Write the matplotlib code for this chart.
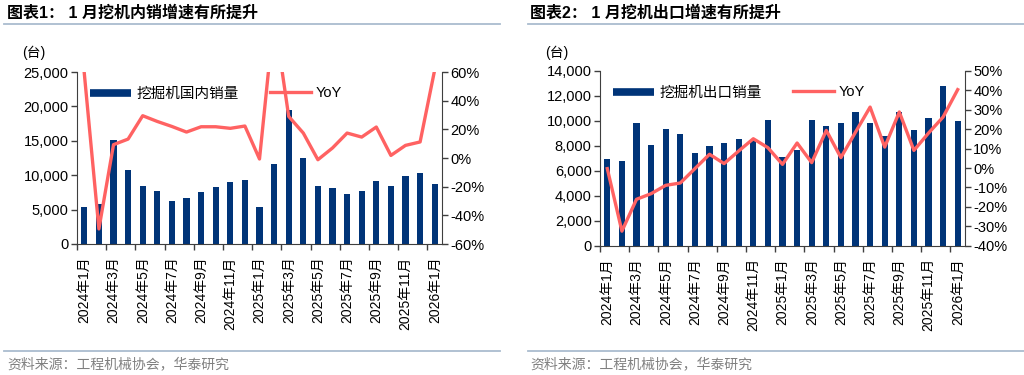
import numpy as np
import matplotlib
matplotlib.use("Agg")
import matplotlib.pyplot as plt
from matplotlib.ticker import FuncFormatter, FixedLocator
from matplotlib.lines import Line2D

plt.rcParams['font.family'] = ['Liberation Sans', 'Noto Sans CJK SC', 'DejaVu Sans']

# ---------------- data ----------------
months = ["2024年1月", "2024年2月", "2024年3月", "2024年4月", "2024年5月", "2024年6月",
          "2024年7月", "2024年8月", "2024年9月", "2024年10月", "2024年11月", "2024年12月",
          "2025年1月", "2025年2月", "2025年3月", "2025年4月", "2025年5月", "2025年6月",
          "2025年7月", "2025年8月", "2025年9月", "2025年10月", "2025年11月", "2025年12月",
          "2026年1月"]

domestic_sales = [5420, 5810, 15160, 10800, 8470, 7650, 6200, 6690, 7600, 8280, 9010, 9300,
                  5420, 11630, 19520, 12500, 8370, 8140, 7270, 7650, 9200, 8470, 9830, 10320,
                  8720]
domestic_yoy = [59.0, -49.5, 9.3, 13.2, 29.5, 25.5, 22.0, 18.1, 21.8, 21.8, 20.7, 22.3,
                -0.7, 99.0, 29.0, 17.4, -1.2, 7.0, 17.4, 14.6, 21.6, 1.8, 8.8, 11.2,
                61.5]

export_sales = [6950, 6790, 9810, 8040, 9330, 8950, 7450, 7960, 8230, 8520, 8500, 10070,
                7080, 7640, 10070, 9620, 9830, 10690, 9830, 8810, 10690, 9300, 10210, 12770,
                9990]
export_yoy = [-0.3, -32.5, -16.1, -13.2, -8.9, -7.7, -0.3, 7.1, 2.3, 8.8, 15.1, 10.5,
              1.9, 12.9, 2.8, 19.4, 5.4, 18.5, 31.4, 10.8, 28.9, 9.1, 18.0, 26.3,
              40.4]

titles = ["图表1： 1 月挖机内销增速有所提升", "图表2： 1 月挖机出口增速有所提升"]
bar_labels = ["挖掘机国内销量", "挖掘机出口销量"]
line_label = "YoY"
unit_label = "(台)"
source_text = "资料来源：工程机械协会，华泰研究"

NAVY = "#003478"
RED = "#FF6262"
SPINE = "#3f3f3f"
RULE = "#AABCCF"

W, H = 1024, 375
fig = plt.figure(figsize=(W / 100, H / 100), dpi=100)


def fx(px):
    return px / W


def fy(py):
    return 1 - py / H


def panel(rect, sales, yoy, ymax, ystep, y2min, y2max, y2step, bar_label):
    ax = fig.add_axes(rect)
    x = np.arange(len(months))
    ax.bar(x, sales, width=0.42, color=NAVY, zorder=2)
    ax.set_xlim(-0.5, len(months) - 0.5)
    ax.set_ylim(0, ymax)
    ax.set_yticks(np.arange(0, ymax + 1, ystep))
    ax.yaxis.set_major_formatter(FuncFormatter(lambda v, p: f"{v:,.0f}"))

    ax.xaxis.set_major_locator(FixedLocator(np.arange(-0.5, len(months) - 1, 2)))
    ax.xaxis.set_minor_locator(FixedLocator(np.arange(0, len(months), 2)))
    ax.set_xticklabels([])
    ax.set_xticklabels([months[i] for i in range(0, len(months), 2)], minor=True,
                       rotation=90, fontsize=10, va='top', ha='center')
    ax.tick_params(axis='x', which='major', direction='out', length=4, width=1, color=SPINE)
    ax.tick_params(axis='x', which='minor', length=0, pad=9)
    ax.tick_params(axis='y', direction='out', length=4, width=1, color=SPINE,
                   labelsize=10.5, pad=2)
    for s in ['top', 'right']:
        ax.spines[s].set_visible(False)
    for s in ['left', 'bottom']:
        ax.spines[s].set_color(SPINE)

    ax2 = ax.twinx()
    ax2.plot(x, yoy, color=RED, lw=2.4, zorder=3)
    ax2.set_ylim(y2min, y2max)
    ax2.set_yticks(np.arange(y2min, y2max + 1, y2step))
    ax2.yaxis.set_major_formatter(FuncFormatter(lambda v, p: f"{v:.0f}%"))
    ax2.tick_params(axis='y', direction='out', length=4, width=1, color=SPINE,
                    labelsize=10.5, pad=2)
    for s in ['top', 'left', 'bottom']:
        ax2.spines[s].set_visible(False)
    ax2.spines['right'].set_color(SPINE)

    h1 = Line2D([], [], color=NAVY, lw=5.5, solid_capstyle='butt')
    ax2.legend(handles=[h1], labels=[bar_label], loc='center left',
               bbox_to_anchor=(0.036, 0.872), frameon=False, borderpad=0,
               borderaxespad=0, handlelength=2.8, handletextpad=0.35, fontsize=10.5)
    leg1 = ax2.get_legend()
    ax2.add_artist(leg1)
    h2 = Line2D([], [], color=RED, lw=2.4)
    ax2.legend(handles=[h2], labels=[line_label], loc='center left',
               bbox_to_anchor=(0.529, 0.878), frameon=False, borderpad=0,
               borderaxespad=0, handlelength=2.8, handletextpad=0.35, fontsize=10.5)
    return ax, ax2


panel([fx(77), fy(244), fx(442) - fx(77), fy(72) - fy(244)],
      domestic_sales, domestic_yoy, 25000, 5000, -60, 60, 20, bar_labels[0])
panel([fx(600), fy(245.7), fx(965) - fx(600), fy(71) - fy(245.7)],
      export_sales, export_yoy, 14000, 2000, -40, 50, 10, bar_labels[1])

# titles, rules, source
for x0, x1, tx, title in [(4, 500, 7, titles[0]), (528, 1024, 530, titles[1])]:
    fig.text(fx(tx), fy(12.5), title, fontsize=11.5, fontweight='bold', va='center', ha='left')
    fig.add_artist(Line2D([fx(x0), fx(x1)], [fy(23.5), fy(23.5)], color=RULE, lw=1.3))
    fig.add_artist(Line2D([fx(x0), fx(x1)], [fy(351), fy(351)], color=RULE, lw=1.3))
    fig.text(fx(tx), fy(364), source_text, fontsize=10, color="#808080",
             va='center', ha='left')

fig.text(fx(22), fy(53), unit_label, fontsize=10, va='center', ha='left')
fig.text(fx(545), fy(53), unit_label, fontsize=10, va='center', ha='left')

fig.savefig("out.png", dpi=100)
